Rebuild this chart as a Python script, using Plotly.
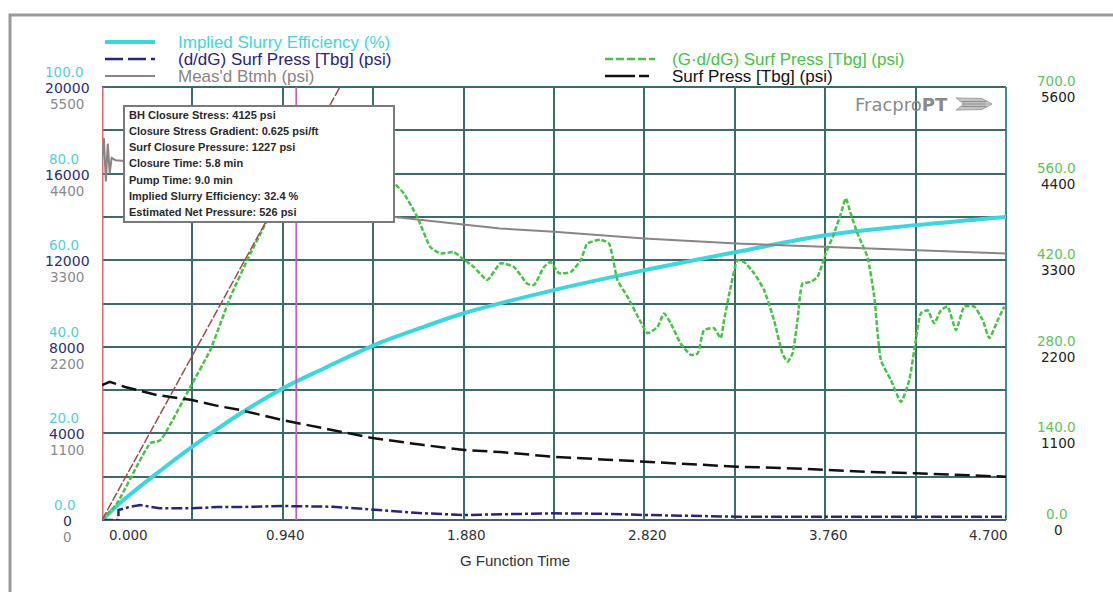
import plotly.graph_objects as go

# ---------------- data ----------------
G_TICKS = [0.0, 0.94, 1.88, 2.82, 3.76, 4.70]
x_tick_labels = ["0.000", "0.940", "1.880", "2.820", "3.760", "4.700"]
cyan_tick_labels = ["0.0", "20.0", "40.0", "60.0", "80.0", "100.0"]
navy_tick_labels = ["0", "4000", "8000", "12000", "16000", "20000"]
gray_tick_labels = ["0", "1100", "2200", "3300", "4400", "5500"]
green_tick_labels = ["0.0", "140.0", "280.0", "420.0", "560.0", "700.0"]
black_tick_labels = ["0", "1100", "2200", "3300", "4400", "5600"]

# Implied Slurry Efficiency (%)
eff_g = [0, 0.112, 0.286, 0.468, 0.72, 0.94, 1.153, 1.416, 1.673, 1.885, 2.349, 2.822, 3.30, 3.768, 4.231, 4.70]
eff_v = [0, 4.6, 10.8, 16.9, 24.6, 30.4, 35.0, 40.4, 44.6, 47.8, 53.1, 57.7, 61.9, 65.8, 68.1, 70.0]

# (d/dG) Surf Press [Tbg] (psi)
ddg_g = [0, 0.085, 0.086, 0.15, 0.2, 0.3, 0.468, 0.6, 0.72, 0.94, 1.2, 1.416, 1.673, 1.885, 2.1, 2.35, 2.6, 2.82, 3.3, 3.8, 4.2, 4.7]
ddg_v = [0, 0, 460, 620, 692, 540, 540, 600, 600, 646, 614, 461, 309, 231, 260, 309, 290, 231, 152, 160, 152, 152]

# Meas'd Btmh (psi)
btmh_g = [0, 0.01, 0.02, 0.03, 0.04, 0.05, 0.07, 0.12, 0.5, 1.0, 1.52, 2.07, 2.35, 2.82, 3.30, 3.77, 4.23, 4.70]
btmh_v = [4560, 4850, 4300, 4780, 4400, 4600, 4570, 4560, 4300, 4050, 3850, 3703, 3660, 3576, 3512, 3469, 3427, 3385]

# (G*d/dG) Surf Press [Tbg] (psi)
gdg_g = [0, 0.078, 0.251, 0.303, 0.459, 0.563, 0.668, 0.772, 0.850, 0.95, 1.05, 1.2, 1.35, 1.45,
         1.521, 1.569, 1.639, 1.708, 1.760, 1.829, 1.885, 1.933, 2.003, 2.072, 2.142, 2.211, 2.246,
         2.298, 2.332, 2.376, 2.437, 2.489, 2.523, 2.592, 2.636, 2.680, 2.732, 2.801, 2.836, 2.888,
         2.922, 2.957, 3.009, 3.061, 3.096, 3.130, 3.182, 3.217, 3.234, 3.269, 3.304, 3.338, 3.390,
         3.442, 3.494, 3.538, 3.564, 3.590, 3.616, 3.642, 3.685, 3.720, 3.763, 3.806, 3.841, 3.867,
         3.893, 3.928, 3.980, 4.015, 4.050, 4.102, 4.154, 4.197, 4.231, 4.257, 4.292, 4.327, 4.361,
         4.396, 4.440, 4.483, 4.535, 4.579, 4.613, 4.657, 4.691]
gdg_v = [0, 27, 124, 129, 215, 275, 361, 431, 479, 540, 590, 600, 585, 560,
         544, 528, 490, 441, 431, 433, 420, 409, 388, 415, 409, 382, 380,
         409, 417, 399, 401, 420, 447, 453, 447, 388, 361, 320, 302, 312,
         334, 318, 285, 267, 269, 307, 310, 294, 323, 377, 420, 417, 399,
         372, 323, 269, 256, 269, 323, 382, 385, 393, 431, 463, 495, 520,
         495, 463, 425, 361, 258, 226, 191, 226, 291, 334, 339, 318, 339,
         345, 307, 345, 345, 323, 294, 323, 345]

# Surf Press [Tbg] (psi)
surf_g = [0, 0.04, 0.12, 0.2, 0.286, 0.468, 0.6, 0.72, 0.94, 1.153, 1.416, 1.673, 1.885, 2.07, 2.349, 2.6, 2.822, 3.05, 3.30, 3.55, 3.768, 4.0, 4.231, 4.5, 4.70]
surf_v = [1714, 1755, 1690, 1640, 1587, 1523, 1450, 1396, 1269, 1164, 1037, 952, 889, 863, 803, 770, 740, 705, 677, 660, 635, 610, 593, 565, 550]

# G*dP/dG tangent through origin, closure and shut-in markers
tangent_g = [0, 1.26]
tangent_v = [0, 713]
closure_g = 1.01
shutin_g = 0.0

info_lines = [
    "BH Closure Stress: 4125 psi",
    "Closure Stress Gradient: 0.625 psi/ft",
    "Surf Closure Pressure: 1227 psi",
    "Closure Time: 5.8 min",
    "Pump Time: 9.0 min",
    "Implied Slurry Efficiency: 32.4 %",
    "Estimated Net Pressure: 526 psi",
]

# ---------------- layout helpers ----------------
W_FIG, H_FIG = 1113, 592
L, T, PW, PH = 102, 87, 904, 433
B = T + PH


def px(x):
    return (x - L) / PW


def py(y):
    return (B - y) / PH


C_CYAN = "#3fd5dc"
C_NAVY = "#27257e"
C_GRAY = "#8c8484"
C_GREEN = "#48c248"
C_BLACK = "#111111"
C_TAN = "#a34a4a"
C_MAG = "#c45ec4"
C_RED = "#d86a6a"
C_GRID = "#3b6b6b"

fig = go.Figure()

fig.add_trace(go.Scatter(x=btmh_g, y=btmh_v, yaxis="y3", mode="lines",
                         line=dict(color=C_GRAY, width=2), showlegend=False))
fig.add_trace(go.Scatter(x=surf_g, y=surf_v, yaxis="y5", mode="lines",
                         line=dict(color=C_BLACK, width=2.5, dash="15px,6px"), showlegend=False))
fig.add_trace(go.Scatter(x=ddg_g, y=ddg_v, yaxis="y2", mode="lines",
                         line=dict(color=C_NAVY, width=2.5, dash="11px,3px,3px,3px"), showlegend=False))
fig.add_trace(go.Scatter(x=eff_g, y=eff_v, yaxis="y", mode="lines",
                         line=dict(color=C_CYAN, width=4, shape="spline", smoothing=1.0), showlegend=False))
fig.add_trace(go.Scatter(x=gdg_g, y=gdg_v, yaxis="y4", mode="lines",
                         line=dict(color=C_GREEN, width=2.5, dash="5px,2px", shape="spline", smoothing=0.5),
                         showlegend=False))
fig.add_trace(go.Scatter(x=tangent_g, y=tangent_v, yaxis="y4", mode="lines",
                         line=dict(color=C_TAN, width=1.5, dash="9px,2px"), showlegend=False))
fig.add_trace(go.Scatter(x=[closure_g, closure_g], y=[0, 100], yaxis="y", mode="lines",
                         line=dict(color=C_MAG, width=1.8), showlegend=False))
fig.add_trace(go.Scatter(x=[shutin_g, shutin_g], y=[0, 100], yaxis="y", mode="lines",
                         line=dict(color=C_RED, width=3), showlegend=False))

shapes = []
annotations = []

# plot border
shapes += [
    dict(type="line", xref="paper", yref="paper", x0=0, x1=1, y0=1, y1=1, line=dict(color=C_GRID, width=2), layer="below"),
    dict(type="line", xref="paper", yref="paper", x0=1, x1=1, y0=0, y1=1, line=dict(color="#3f8f8f", width=2), layer="below"),
    dict(type="line", xref="paper", yref="paper", x0=0, x1=1, y0=0, y1=0, line=dict(color="#4b5a72", width=2), layer="below"),
]

# outer frame
shapes.append(dict(type="rect", xref="paper", yref="paper",
                   x0=px(10), x1=px(1130), y0=py(610), y1=py(15),
                   line=dict(color="#9a9a9a", width=3), layer="below"))

# info box
shapes.append(dict(type="rect", xref="paper", yref="paper",
                   x0=px(124), x1=px(394), y0=py(222), y1=py(106),
                   fillcolor="white", line=dict(color="#7a7a7a", width=2), layer="above"))
for i, txt in enumerate(info_lines):
    annotations.append(dict(xref="paper", yref="paper", x=px(126.5), y=py(114.5 + 16.3 * i),
                            xanchor="left", yanchor="middle", showarrow=False, text=f"<b>{txt}</b>",
                            font=dict(family="Liberation Sans", size=11, color="#2a2a2a")))

# legend (manual)
legend_items = [
    ("Implied Slurry Efficiency (%)", C_CYAN, 4, "solid", 105, 155, 176, 42),
    ("(d/dG) Surf Press [Tbg] (psi)", C_NAVY, 2.5, "18px,5px", 105, 155, 176, 59),
    ("Meas'd Btmh (psi)", C_GRAY, 2, "solid", 105, 155, 176, 76),
    ("(G\u00b7d/dG) Surf Press [Tbg] (psi)", C_GREEN, 2.5, "8px,3px", 605, 655, 670, 59),
    ("Surf Press [Tbg] (psi)", C_BLACK, 2.5, "30px,4px,10px,40px", 605, 655, 670, 76),
]
for name, col, wid, dash, x0, x1, xt, yy in legend_items:
    shapes.append(dict(type="line", xref="paper", yref="paper", x0=px(x0), x1=px(x1), y0=py(yy), y1=py(yy),
                       line=dict(color=col, width=wid, dash=dash)))
    annotations.append(dict(xref="paper", yref="paper", x=px(xt), y=py(yy), xanchor="left", yanchor="middle",
                            showarrow=False, text=name,
                            font=dict(family="Liberation Sans", size=17, color=col)))

# left / right tick labels
tick_font = "DejaVu Sans"
for i in range(6):
    yv = 20 * i
    annotations.append(dict(xref="paper", yref="y", x=px(64), y=yv, yshift=15, xanchor="center", yanchor="middle",
                            showarrow=False, text=cyan_tick_labels[i],
                            font=dict(family=tick_font, size=13.5, color="#55cfd6")))
    annotations.append(dict(xref="paper", yref="y", x=px(67), y=yv, yshift=-1, xanchor="center", yanchor="middle",
                            showarrow=False, text=navy_tick_labels[i],
                            font=dict(family=tick_font, size=14, color="#2e2e78")))
    annotations.append(dict(xref="paper", yref="y", x=px(67), y=yv, yshift=-17, xanchor="center", yanchor="middle",
                            showarrow=False, text=gray_tick_labels[i],
                            font=dict(family=tick_font, size=13.5, color="#8a8a8a")))
    annotations.append(dict(xref="paper", yref="y", x=px(1056), y=yv, yshift=6, xanchor="center", yanchor="middle",
                            showarrow=False, text=green_tick_labels[i],
                            font=dict(family=tick_font, size=13.5, color="#5cc45c")))
    annotations.append(dict(xref="paper", yref="y", x=px(1058), y=yv, yshift=-10, xanchor="center", yanchor="middle",
                            showarrow=False, text=black_tick_labels[i],
                            font=dict(family=tick_font, size=13.5, color="#222222")))

# x tick labels
for i, (gv, lab) in enumerate(zip(G_TICKS, x_tick_labels)):
    xs = 26 if i == 0 else (-18 if i == len(G_TICKS) - 1 else 3)
    annotations.append(dict(xref="x", yref="paper", x=gv, y=py(535), xshift=xs, xanchor="center", yanchor="middle",
                            showarrow=False, text=lab,
                            font=dict(family=tick_font, size=13.5, color="#333333")))

annotations.append(dict(xref="paper", yref="paper", x=px(515), y=py(560), xanchor="center", yanchor="middle",
                        showarrow=False, text="G Function Time",
                        font=dict(family="Liberation Sans", size=15, color="#333333")))

# logo
annotations.append(dict(xref="paper", yref="paper", x=px(853), y=py(104), xanchor="left", yanchor="middle",
                        showarrow=False, text="Fracpro<b>PT</b>",
                        font=dict(family="DejaVu Sans", size=18, color="#8a8a8a")))
shapes.append(dict(type="path", xref="paper", yref="paper",
                   path=f"M {px(956)},{py(98)} L {px(982)},{py(98.5)} L {px(992)},{py(104)} "
                        f"L {px(982)},{py(109.5)} L {px(956)},{py(110)} L {px(964)},{py(104)} Z",
                   fillcolor="#c4c4c4", line=dict(color="#a0a0a0", width=1)))
for yy in (101.5, 104, 106.5):
    shapes.append(dict(type="line", xref="paper", yref="paper", x0=px(962), x1=px(986), y0=py(yy), y1=py(yy),
                       line=dict(color="#8c8c8c", width=1)))

axis_common = dict(showticklabels=False, ticks="", zeroline=False, showline=False)

fig.update_layout(
    width=W_FIG, height=H_FIG,
    margin=dict(l=L, r=W_FIG - L - PW, t=T, b=H_FIG - T - PH, autoexpand=False),
    paper_bgcolor="white", plot_bgcolor="white",
    showlegend=False,
    xaxis=dict(range=[0, 4.7], tick0=0, dtick=0.47, showgrid=True, gridcolor=C_GRID, gridwidth=1.5, **axis_common),
    yaxis=dict(range=[0, 100], tick0=0, dtick=10, showgrid=True, gridcolor=C_GRID, gridwidth=1.5, **axis_common),
    yaxis2=dict(range=[0, 20000], overlaying="y", visible=False),
    yaxis3=dict(range=[0, 5500], overlaying="y", visible=False),
    yaxis4=dict(range=[0, 700], overlaying="y", visible=False),
    yaxis5=dict(range=[0, 5500], overlaying="y", visible=False),
    shapes=shapes,
    annotations=annotations,
)

fig.write_html("out.html")
